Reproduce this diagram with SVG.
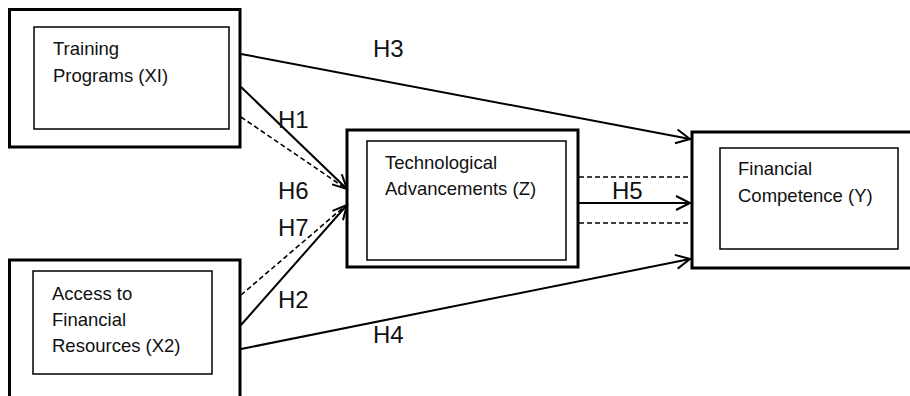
<svg xmlns="http://www.w3.org/2000/svg" width="910" height="396" viewBox="0 0 910 396">
  <style>
    .outer { fill: #fff; stroke: #000; stroke-width: 3; }
    .inner { fill: #fff; stroke: #000; stroke-width: 1.5; }
    .txt { font-family: "Liberation Sans", Arial, sans-serif; font-size: 18.5px; fill: #111; }
    .lbl { font-family: "Liberation Sans", Arial, sans-serif; font-size: 24px; fill: #111; }
    .edge { fill: none; stroke: #000; stroke-width: 2; }
    .dash { stroke-dasharray: 5 3; stroke-width: 1.6; }
  </style>
  <defs>
    <marker id="arrow" markerUnits="userSpaceOnUse" markerWidth="20" markerHeight="20" refX="0" refY="0" viewBox="-16 -10 18 20" orient="auto">
      <path d="M-14,-7 L0,0 L-14,7" fill="none" stroke="#000" stroke-width="2"/>
    </marker>
  </defs>

  <!-- nodes -->
  <g id="training">
    <rect class="outer" x="9.5" y="9.5" width="230.5" height="137.5"/>
    <rect class="inner" x="34" y="27" width="195" height="102"/>
    <text class="txt" x="53" y="55">Training</text>
    <text class="txt" x="53" y="82">Programs (XI)</text>
  </g>
  <g id="access">
    <rect class="outer" x="9.5" y="260" width="230.5" height="145"/>
    <rect class="inner" x="33" y="271" width="179" height="103"/>
    <text class="txt" x="52" y="300">Access to</text>
    <text class="txt" x="52" y="326">Financial</text>
    <text class="txt" x="52" y="352">Resources (X2)</text>
  </g>
  <g id="tech">
    <rect class="outer" x="347" y="130" width="231" height="137"/>
    <rect class="inner" x="367" y="141" width="199" height="119"/>
    <text class="txt" x="385" y="169">Technological</text>
    <text class="txt" x="385" y="195">Advancements (Z)</text>
  </g>
  <g id="competence">
    <rect class="outer" x="692" y="132" width="222" height="136"/>
    <rect class="inner" x="720" y="148" width="178" height="101"/>
    <text class="txt" x="738" y="175">Financial</text>
    <text class="txt" x="738" y="202">Competence (Y)</text>
  </g>

  <!-- connectors -->
  <g id="connectors">
    <line class="edge" x1="241" y1="54" x2="690" y2="139" marker-end="url(#arrow)"/>
    <line class="edge" x1="241" y1="87" x2="347" y2="189" marker-end="url(#arrow)"/>
    <line class="edge dash" x1="241" y1="117" x2="345" y2="188"/>
    <line class="edge dash" x1="241" y1="295" x2="345" y2="206"/>
    <line class="edge" x1="241" y1="325" x2="347" y2="205" marker-end="url(#arrow)"/>
    <line class="edge" x1="241" y1="349" x2="690" y2="259" marker-end="url(#arrow)"/>
    <line class="edge" x1="579" y1="203" x2="690" y2="203" marker-end="url(#arrow)"/>
    <line class="edge dash" x1="579" y1="177" x2="688" y2="177"/>
    <line class="edge dash" x1="579" y1="223" x2="691" y2="223"/>
  </g>

  <!-- path labels -->
  <g id="labels">
    <text class="lbl" x="373" y="57">H3</text>
    <text class="lbl" x="278" y="128">H1</text>
    <text class="lbl" x="278" y="199">H6</text>
    <text class="lbl" x="278" y="236">H7</text>
    <text class="lbl" x="278" y="308">H2</text>
    <text class="lbl" x="612" y="199">H5</text>
    <text class="lbl" x="373" y="343">H4</text>
  </g>
</svg>
